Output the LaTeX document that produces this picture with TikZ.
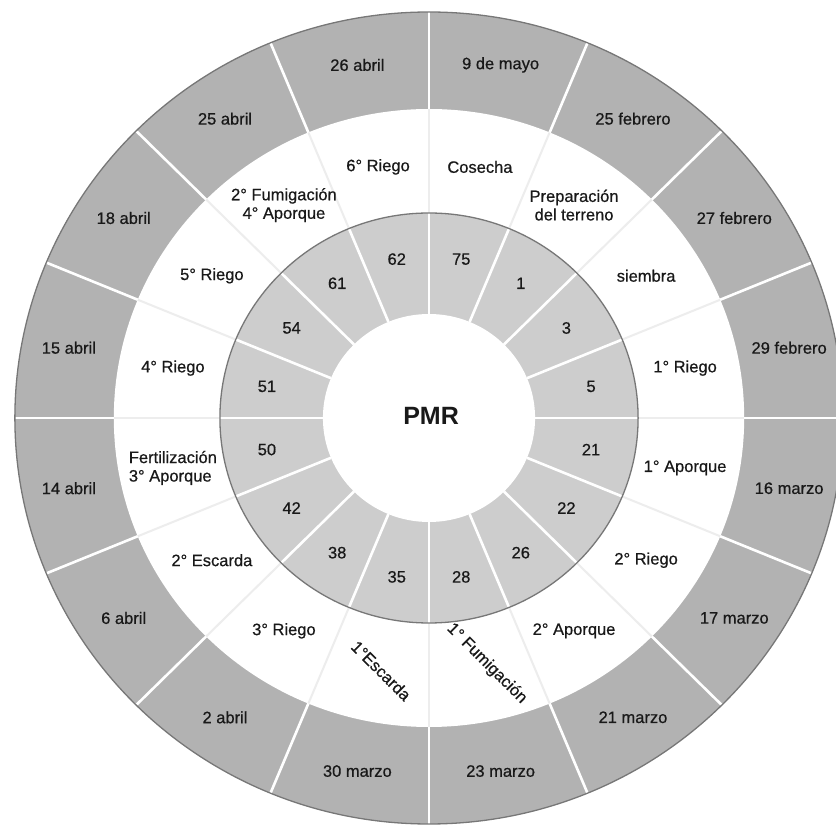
\documentclass[tikz,border=0pt]{standalone}
\usepackage{fontspec}
\setmainfont{Liberation Sans}
\newfontfamily\lblfont{Liberation Sans}[FakeBold=0.6]
\definecolor{ringdark}{HTML}{B2B2B2}
\definecolor{ringlight}{HTML}{CDCDCD}
\definecolor{rimline}{HTML}{777777}
\definecolor{faintline}{HTML}{EDEDED}

\begin{document}
\begin{tikzpicture}[
  x=1pt, y=1pt,
  font=\lblfont\fontsize{16.5}{18.5}\selectfont,
  lbl/.style={align=center, inner sep=1pt, text=black!90},
  sepline/.style={white, line width=2.6pt},
  sepfaint/.style={faintline, line width=2pt},
  rim/.style={rimline, line width=1.3pt}
]
\useasboundingbox (0,0) rectangle (836,828);
\begin{scope}[shift={(429,410)}, xscale=1.02]
% rings
\fill[ringdark] (0,0) circle[radius=406];
\fill[white] (0,0) circle[radius=309];
\fill[ringlight] (0,0) circle[radius=205];
\fill[white] (0,0) circle[radius=104];

% spokes between the 16 sectors
\foreach \a in {0,22.5,...,337.5} {
  \draw[sepline] (\a:104) -- (\a:205);
  \draw[sepfaint] (\a:205) -- (\a:309);
  \draw[sepline] (\a:309) -- (\a:406);
}
\draw[rim] (0,0) circle[radius=406];
\draw[rim] (0,0) circle[radius=205];

% dates (outer ring) and days (inner ring)
\foreach \k/\dt/\dy in {1/9 de mayo/75, 2/25 febrero/1, 3/27 febrero/3,
    4/29 febrero/5, 5/16 marzo/21, 6/17 marzo/22, 7/21 marzo/26,
    8/23 marzo/28, 9/30 marzo/35, 10/2 abril/38, 11/6 abril/42,
    12/14 abril/50, 13/15 abril/51, 14/18 abril/54, 15/25 abril/61,
    16/26 abril/62} {
  \pgfmathsetmacro\ang{101.25-22.5*\k}
  \node[lbl] (o\k) at (\ang:360) {\dt};
  \node[lbl] (n\k) at (\ang:162) {\dy};
}

% crop stages (middle ring)
\foreach \k/\ev in {1/Cosecha, 2/{Preparación\\del terreno}, 3/siembra,
    4/1° Riego, 5/1° Aporque, 6/2° Riego, 7/2° Aporque, 10/3° Riego,
    11/2° Escarda, 13/4° Riego, 14/5° Riego,
    15/{2° Fumigación\\4° Aporque}, 16/6° Riego} {
  \pgfmathsetmacro\ang{101.25-22.5*\k}
  \node[lbl] (m\k) at (\ang:256) {\ev};
}
\node[lbl, rotate=-45] (m8) at (-77:252) {1° Fumigación};
\node[lbl, rotate=-45] (m9) at (-100.5:257) {1°Escarda};
\node[lbl, align=left] (m12) at (-168.75:256) {Fertilización\\3° Aporque};

\node[font=\fontsize{25}{30}\selectfont\bfseries, text=black!90] (pmr) at (2,2) {PMR};
\end{scope}
\end{tikzpicture}
\end{document}
